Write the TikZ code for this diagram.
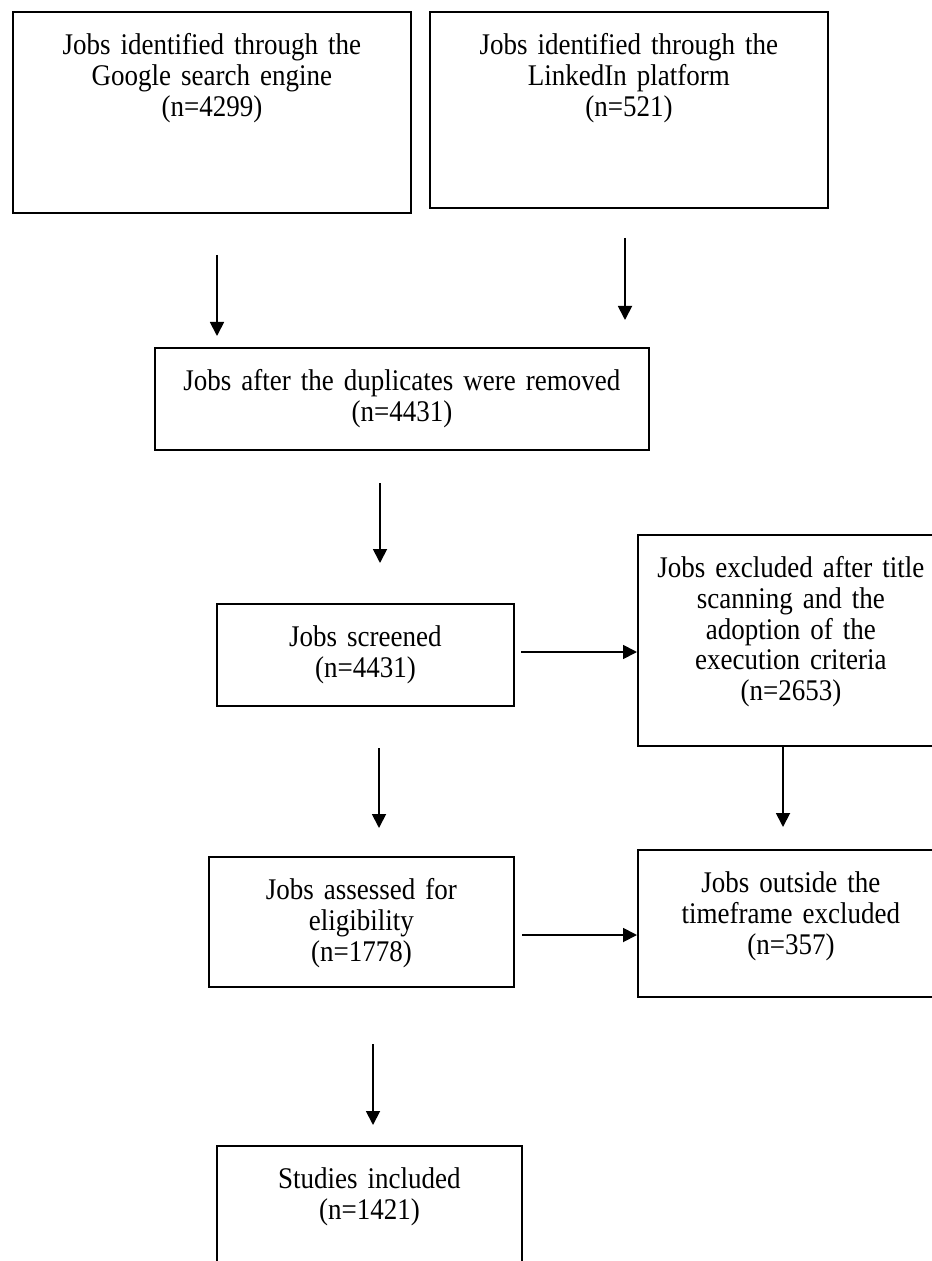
\documentclass[tikz,border=0pt]{standalone}
\usepackage{fontspec}
\setmainfont[FakeStretch=0.9]{Liberation Serif}
\usetikzlibrary{arrows.meta}
\newcommand\jobfont{\fontsize{15}{15.3}\selectfont\fontdimen2\font=2.7pt\relax}
\tikzset{
    jobbox/.style={draw, line width=0.9pt, anchor=north west, inner sep=0pt,
        execute at begin node=\centering, text height=21.5pt, font=\jobfont},
    arr/.style={line width=0.9pt, -{Triangle[width=7pt,length=7pt]}}
}
\begin{document}
\begin{tikzpicture}[x=0.5pt,y=-0.5pt]
            \useasboundingbox (0,0) rectangle (931,1261);
            \node[jobbox, text width=199pt, text depth=79pt] (google) at (12,11) {Jobs identified through the\\Google search engine\\(n=4299)};
            \node[jobbox, text width=199pt, text depth=76.5pt] (linkedin) at (429,11) {Jobs identified through the\\LinkedIn platform\\(n=521)};
            \node[jobbox, text width=247pt, text depth=29.5pt] (dup) at (154,347) {Jobs after the duplicates were removed\\(n=4431)};
            \node[jobbox, text width=148.5pt, text depth=29.5pt] (screened) at (216,603) {Jobs screened\\(n=4431)};
            \node[jobbox, text width=153pt, text depth=84pt] (excl) at (637,534) {Jobs excluded after title\\scanning and the\\adoption of the\\execution criteria\\(n=2653)};
            \node[jobbox, text width=152.5pt, text depth=43.5pt] (assessed) at (208,856) {Jobs assessed for\\eligibility\\(n=1778)};
            \node[jobbox, text width=153pt, text depth=52pt] (outside) at (637,849) {Jobs outside the\\timeframe excluded\\(n=357)};
            \node[jobbox, text width=152.5pt, text depth=53.5pt] (studies) at (216,1145) {Studies included\\(n=1421)};
            \coordinate (g1) at (217,255);
            \coordinate (g2) at (217,336);
            \coordinate (l1) at (625,238);
            \coordinate (l2) at (625,320);
            \coordinate (d1) at (380,483);
            \coordinate (d2) at (380,563);
            \coordinate (s1) at (521,652);
            \coordinate (e2) at (783,827);
            \coordinate (s2) at (379,748);
            \coordinate (s3) at (379,828);
            \coordinate (a1) at (522,935);
            \coordinate (a2) at (373,1044);
            \coordinate (a3) at (373,1125);
            \draw[arr] (g1) -- (g2);
            \draw[arr] (l1) -- (l2);
            \draw[arr] (d1) -- (d2);
            \draw[arr] (s1) -- (s1 -| excl.west);
            \draw[arr] (e2 |- excl.south) -- (e2);
            \draw[arr] (s2) -- (s3);
            \draw[arr] (a1) -- (a1 -| outside.west);
            \draw[arr] (a2) -- (a3);
        \end{tikzpicture}
\end{document}
